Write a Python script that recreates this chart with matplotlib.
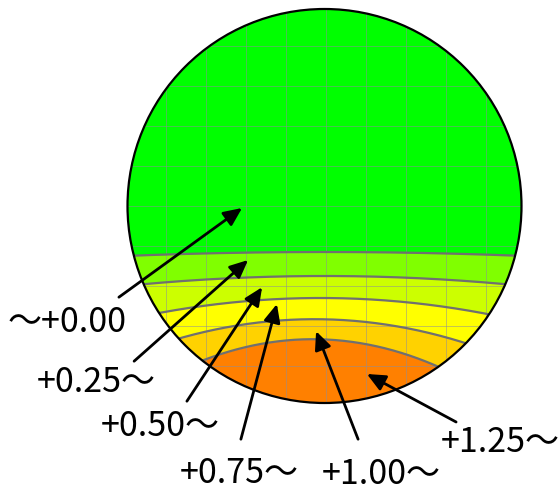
import numpy as np
import matplotlib
matplotlib.use("Agg")
import matplotlib.pyplot as plt
from matplotlib.patches import Circle

plt.rcParams['font.family'] = ['Noto Sans CJK JP', 'DejaVu Sans']

# lens radius in grid units (grid step = 1)
R = 4.925
# band colours, top (lowest power) to bottom
band_colors = ['#00ff00', '#80ff00', '#ccff00', '#ffff00', '#ffd200', '#ff8000']
# boundary curves: peak height, peak x, curvature  (y = y0 - c*(x-x0)^2)
bound_y0 = [-1.15, -1.75, -2.30, -2.83, -3.33]
bound_x0 = [0.0, 0.0, -0.10, -0.25, -0.29]
bound_c = [0.004, 0.010, 0.023, 0.042, 0.070]
labels = ['〜+0.00', '+0.25〜', '+0.50〜', '+0.75〜', '+1.00〜', '+1.25〜']

# arrow tips / tails and label centres (layout)
tips = [(-2.06, -0.05), (-1.91, -1.35), (-1.56, -2.03), (-1.19, -2.45), (-0.21, -3.13), (1.06, -4.20)]
tails = [(-5.14, -2.28), (-4.76, -3.88), (-3.44, -4.88), (-2.09, -5.83), (0.84, -5.83), (3.29, -5.40)]
lab_xy = [(-6.44, -2.88), (-5.71, -4.40), (-4.11, -5.48), (-2.14, -6.67), (1.41, -6.69), (4.39, -5.90)]

fig = plt.figure(figsize=(5.6, 4.89), dpi=100)
ax = fig.add_axes([0, 0, 1, 1])
ax.set_xlim(-324.5/40, 235.5/40)
ax.set_ylim(-282.0/40, 207.0/40)
ax.axis('off')

clip = Circle((0, 0), R, transform=ax.transData)

base = Circle((0, 0), R, facecolor=band_colors[0], edgecolor='none', zorder=1)
ax.add_patch(base)

xs = np.linspace(-R - 0.2, R + 0.2, 500)
curves = []
for y0, x0, c in zip(bound_y0, bound_x0, bound_c):
    curves.append(y0 - c*(xs - x0)**2)

for i, yb in enumerate(curves):
    f = ax.fill_between(xs, -R - 1, yb, color=band_colors[i+1], lw=0, zorder=2)
    f.set_clip_path(clip)

# grid (1px dotted)
for k in range(-4, 5):
    l1, = ax.plot([k + 0.025, k + 0.025], [-R, R], color='#8c8c9c', lw=0.72, ls=(0, (1, 1)), zorder=3)
    l2, = ax.plot([-R, R], [k + 0.0125, k + 0.0125], color='#8c8c9c', lw=0.72, ls=(0, (1, 1)), zorder=3)
    l1.set_clip_path(clip)
    l2.set_clip_path(clip)

for yb in curves:
    ln, = ax.plot(xs, yb, color='#707070', lw=1.6, zorder=4)
    ln.set_clip_path(clip)

edge = Circle((0, 0), R, facecolor='none', edgecolor='black', lw=1.6, zorder=5)
ax.add_patch(edge)

for t, s, (lx, ly), txt in zip(tips, tails, lab_xy, labels):
    ax.annotate('', xy=t, xytext=s,
                arrowprops=dict(arrowstyle='-|>,head_length=0.55,head_width=0.25',
                                mutation_scale=20, color='black', lw=2.0,
                                shrinkA=0, shrinkB=0), zorder=6)
    ax.text(lx, ly, txt, fontsize=24.5, ha='center', va='center', color='black', zorder=7)

fig.savefig('out.png', dpi=100)
